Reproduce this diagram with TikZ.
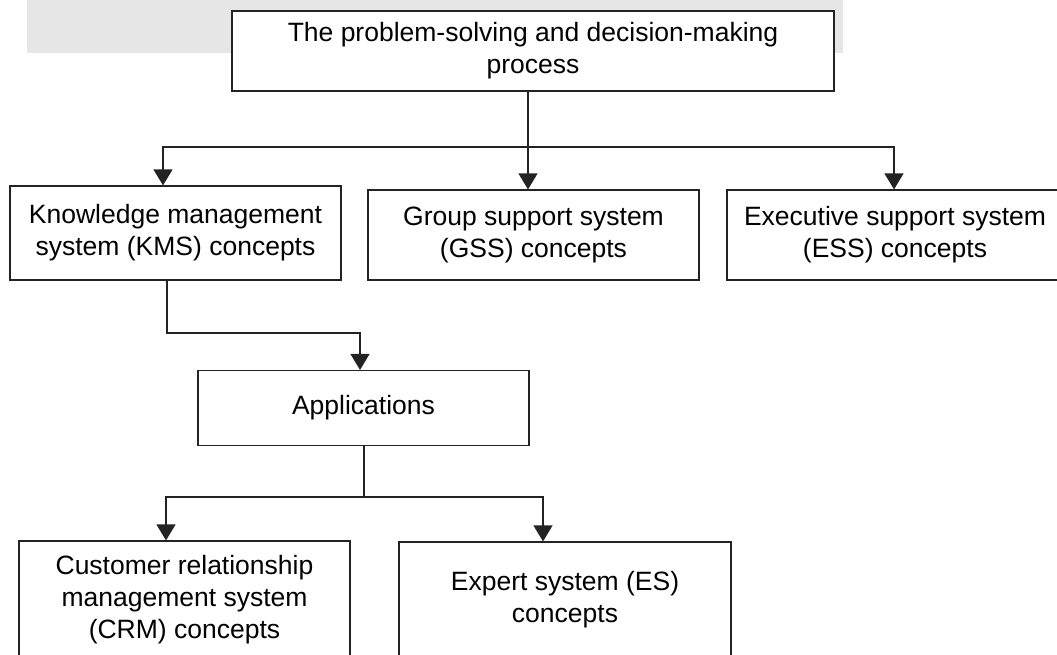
\documentclass[tikz,border=0pt]{standalone}
\usepackage{fontspec}
\setmainfont{Liberation Sans}
\usetikzlibrary{arrows.meta}
\definecolor{band}{RGB}{230,230,230}
\definecolor{ink}{RGB}{35,35,35}
\tikzset{
  box/.style={draw=ink, line width=1.2pt, fill=white, align=center, inner sep=0pt,
    font=\fontsize{26.5pt}{32pt}\selectfont},
  conn/.style={draw=ink, line width=1.2pt},
  arr/.style={conn, -{Triangle[width=19pt,length=16pt]}}
}
\begin{document}
\begin{tikzpicture}[x=1pt,y=-1pt]
\useasboundingbox (0,0) rectangle (1057,654);
\clip (0,0) rectangle (1057,654);
\fill[band] (27,0) rectangle (843,53);
% boxes
\node[box, minimum width=602pt, minimum height=80pt] (top) at (533,51)
  {The problem-solving and decision-making\\process};
\node[box, minimum width=331pt, minimum height=94pt] (kms) at (175.5,233)
  {Knowledge management\\system (KMS) concepts};
\node[box, minimum width=331pt, minimum height=90pt] (gss) at (533.5,235)
  {Group support system\\(GSS) concepts};
\node[box, minimum width=336pt, minimum height=90pt] (ess) at (895,235)
  {Executive support system\\(ESS) concepts};
\node[box, minimum width=331pt, minimum height=75pt] (apps) at (363.5,408)
  {Applications};
\node[box, minimum width=331pt, minimum height=117pt] (crm) at (184.5,599.5)
  {Customer relationship\\management system\\(CRM) concepts};
\node[box, minimum width=332pt, minimum height=116pt] (es) at (565,600)
  {Expert system (ES)\\concepts};
% junction coordinates
\coordinate (j1) at (528,147);
\coordinate (hl) at (163,147);
\coordinate (hr) at (894,147);
\coordinate (k1) at (167,333);
\coordinate (k2) at (360,333);
\coordinate (a1) at (364,497);
\coordinate (al) at (166,497);
\coordinate (ar) at (543,497);
% connectors
\draw[conn] (top.south -| j1) -- (j1);
\draw[arr] (j1) -- (j1 |- gss.north);
\draw[arr] (j1) -- (hl) -- (hl |- kms.north);
\draw[arr] (j1) -- (hr) -- (hr |- ess.north);
\draw[arr] (kms.south -| k1) -- (k1) -- (k2) -- (k2 |- apps.north);
\draw[conn] (apps.south -| a1) -- (a1);
\draw[arr] (a1) -- (al) -- (al |- crm.north);
\draw[arr] (a1) -- (ar) -- (ar |- es.north);
\end{tikzpicture}
\end{document}
